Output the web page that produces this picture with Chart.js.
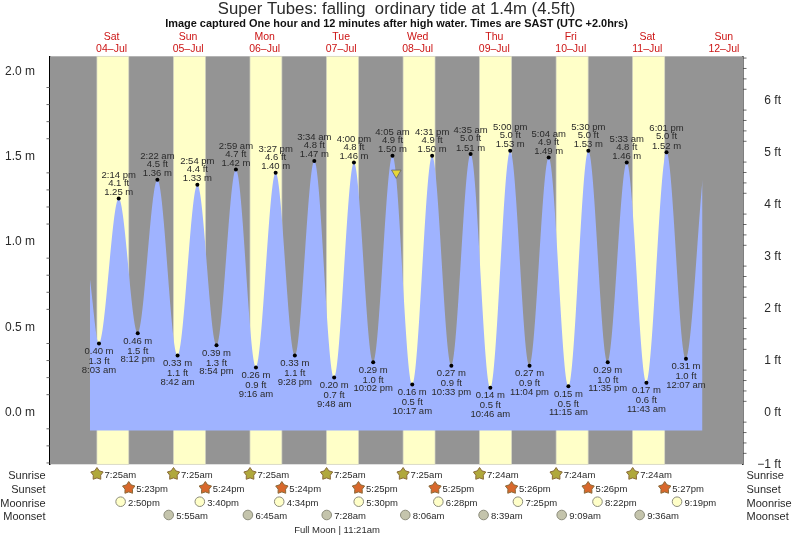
<!DOCTYPE html>
<html>
<head>
<meta charset="utf-8">
<style>
  html, body { margin: 0; padding: 0; background: #fff; }
  canvas { display: block; }
</style>
<script src="https://cdn.jsdelivr.net/npm/chart.js@4/dist/chart.umd.min.js"></script>
</head>
<body>
<canvas id="tide" width="793" height="537"></canvas>
<script>
// tide turning points. hours are counted from 00:00 on 04-Jul
const eventDays = [0,0,0, 1,1,1,1, 2,2,2,2, 3,3,3,3, 4,4,4,4, 5,5,5,5, 6,6,6,6, 7,7,7, 8];
const eventTimes = [
  "8:03 am","2:14 pm","8:12 pm",
  "2:22 am","8:42 am","2:54 pm","8:54 pm",
  "2:59 am","9:16 am","3:27 pm","9:28 pm",
  "3:34 am","9:48 am","4:00 pm","10:02 pm",
  "4:05 am","10:17 am","4:31 pm","10:33 pm",
  "4:35 am","10:46 am","5:00 pm","11:04 pm",
  "5:04 am","11:15 am","5:30 pm","11:35 pm",
  "5:33 am","11:43 am","6:01 pm",
  "12:07 am"
];
const eventMetres = [
  0.40,1.25,0.46,
  1.36,0.33,1.33,0.39,
  1.42,0.26,1.40,0.33,
  1.47,0.20,1.46,0.29,
  1.50,0.16,1.50,0.27,
  1.51,0.14,1.53,0.27,
  1.49,0.15,1.53,0.29,
  1.46,0.17,1.52,
  0.31
];
const eventFeet = [
  "1.3","4.1","1.5",
  "4.5","1.1","4.4","1.3",
  "4.7","0.9","4.6","1.1",
  "4.8","0.7","4.8","1.0",
  "4.9","0.5","4.9","0.9",
  "5.0","0.5","5.0","0.9",
  "4.9","0.5","5.0","1.0",
  "4.8","0.6","5.0",
  "1.0"
];
// where the drawn curve starts and stops
const curveStart = { x: 5.2, y: 0.78 };
const curveEnd = { x: 197.3, y: 1.36 };
const curveBase = -0.11;
const nowMarker = { x: 101.28, y: 1.4 };

const dayNames = ["Sat","Sun","Mon","Tue","Wed","Thu","Fri","Sat","Sun"];
const dayDates = ["04\u2013Jul","05\u2013Jul","06\u2013Jul","07\u2013Jul","08\u2013Jul","09\u2013Jul","10\u2013Jul","11\u2013Jul","12\u2013Jul"];

const sunrise = ["7:25am","7:25am","7:25am","7:25am","7:25am","7:24am","7:24am","7:24am"];
const sunset = ["5:23pm","5:24pm","5:24pm","5:25pm","5:25pm","5:26pm","5:26pm","5:27pm"];
const moonrise = ["2:50pm","3:40pm","4:34pm","5:30pm","6:28pm","7:25pm","8:22pm","9:19pm"];
const moonset = ["5:55am","6:45am","7:28am","8:06am","8:39am","9:09am","9:36am"];
const moonsetFirstDay = 1;

const metreTicks = [0, 0.5, 1, 1.5, 2];
const feetTicks = [-1, 0, 1, 2, 3, 4, 5, 6];

const GREY = "#949494";
const YELLOW = "#ffffc8";
const BLUE = "#9fb3ff";
const TEXT = "#2a2a2a";
const FONT = "'Liberation Sans', Arial, sans-serif";
const M_PER_FT = 0.3048;
const Y_MIN = -0.308;
const Y_MAX = 2.083;

function clockToHours(s) {
  const m = s.match(/(\d+):(\d+)\s*(am|pm)/);
  let h = parseInt(m[1]) % 12 + parseInt(m[2]) / 60;
  if (m[3] === "pm") h += 12;
  return h;
}

const eventHours = eventTimes.map((t, i) => eventDays[i] * 24 + clockToHours(t));
const tidePoints = [curveStart]
  .concat(eventHours.map((h, i) => ({ x: h, y: eventMetres[i] })))
  .concat([curveEnd]);

// day bands, minor ticks and the rows under the plot
const tideExtras = {
  id: "tideExtras",
  afterLayout(chart) {
    // crossAlign far right-aligns to the scale box, pull the ft labels in from the page edge
    chart.scales.ft.right = 781;
  },
  beforeDatasetsDraw(chart) {
    const { ctx, chartArea: a, scales } = chart;
    ctx.save();
    ctx.fillStyle = GREY;
    ctx.fillRect(a.left, a.top, a.right - a.left, a.bottom - a.top);
    ctx.fillStyle = YELLOW;
    ctx.strokeStyle = "#d8d8c4";
    ctx.lineWidth = 0.7;
    sunrise.forEach((t, i) => {
      const x0 = scales.x.getPixelForValue(i * 24 + clockToHours(t));
      const x1 = scales.x.getPixelForValue(i * 24 + clockToHours(sunset[i]));
      ctx.fillRect(x0, a.top, x1 - x0, a.bottom - a.top);
      ctx.strokeRect(x0, a.top, x1 - x0, a.bottom - a.top);
    });
    ctx.restore();
  },
  afterDatasetsDraw(chart) {
    const { ctx, chartArea: a, scales } = chart;
    ctx.save();
    // minor ticks
    ctx.strokeStyle = "#444";
    ctx.lineWidth = 0.8;
    ctx.beginPath();
    for (let v = -3; v <= 20; v++) {
      if (v % 5 === 0) continue;
      const y = scales.y.getPixelForValue(v / 10);
      ctx.moveTo(a.left - 3.5, y);
      ctx.lineTo(a.left, y);
    }
    for (let v = -5; v <= 34; v++) {
      if (v % 5 === 0) continue;
      const y = scales.ft.getPixelForValue(v / 5);
      ctx.moveTo(a.right, y);
      ctx.lineTo(a.right + 3.5, y);
    }
    ctx.stroke();

    // labels on the highs and lows
    ctx.fillStyle = TEXT;
    ctx.font = "9.5px " + FONT;
    ctx.textAlign = "center";
    ctx.textBaseline = "middle";
    eventHours.forEach((h, i) => {
      const x = scales.x.getPixelForValue(h);
      const y = scales.y.getPixelForValue(eventMetres[i]);
      const isLow = i === 0 || eventMetres[i] < eventMetres[i - 1];
      const m = eventMetres[i].toFixed(2) + " m";
      const ft = eventFeet[i] + " ft";
      if (isLow) {
        ctx.fillText(m, x, y + 7.8);
        ctx.fillText(ft, x, y + 17.8);
        ctx.fillText(eventTimes[i], x, y + 26.5);
      } else {
        ctx.fillText(m, x, y - 6.2);
        ctx.fillText(ft, x, y - 15.5);
        ctx.fillText(eventTimes[i], x, y - 23.5);
      }
    });

    // rows under the plot
    const rows = [
      { times: sunrise, y: 475, first: 0, icon: "sunrise" },
      { times: sunset, y: 489, first: 0, icon: "sunset" },
      { times: moonrise, y: 502.7, first: 0, icon: "moonrise" },
      { times: moonset, y: 516, first: moonsetFirstDay, icon: "moonset" }
    ];
    ctx.font = "9.5px " + FONT;
    ctx.textAlign = "left";
    rows.forEach(row => {
      row.times.forEach((t, i) => {
        const x = scales.x.getPixelForValue((i + row.first) * 24 + clockToHours(t));
        drawIcon(ctx, row.icon, x, row.y - 1);
        ctx.fillStyle = TEXT;
        ctx.fillText(t, x + 7.5, row.y + 0.8);
      });
    });
    ctx.font = "11px " + FONT;
    ctx.textAlign = "right";
    ["Sunrise", "Sunset", "Moonrise", "Moonset"].forEach((name, i) => {
      ctx.fillText(name, 45.5, rows[i].y + 0.8);
    });
    ctx.textAlign = "left";
    ["Sunrise", "Sunset", "Moonrise", "Moonset"].forEach((name, i) => {
      ctx.fillText(name, 746.5, rows[i].y + 0.8);
    });
    ctx.font = "9.5px " + FONT;
    ctx.textAlign = "center";
    ctx.fillText("Full Moon | 11:21am", 337, 530);
    ctx.restore();
  }
};

function drawIcon(ctx, kind, x, y) {
  ctx.save();
  ctx.lineWidth = 1;
  if (kind === "sunrise" || kind === "sunset") {
    ctx.fillStyle = kind === "sunrise" ? "#b0a83c" : "#d8682c";
    ctx.strokeStyle = "#8a6a3a";
    ctx.beginPath();
    for (let k = 0; k < 10; k++) {
      const r = k % 2 === 0 ? 6.5 : 3.9;
      const t = -Math.PI / 2 + k * Math.PI / 5;
      ctx.lineTo(x + r * Math.cos(t), y + r * Math.sin(t));
    }
    ctx.closePath();
    ctx.fill();
    ctx.stroke();
  } else {
    ctx.fillStyle = kind === "moonrise" ? "#ffffc8" : "#c4c4ac";
    ctx.strokeStyle = "#8c8c7c";
    ctx.beginPath();
    ctx.arc(x, y, 4.8, 0, Math.PI * 2);
    ctx.fill();
    ctx.stroke();
  }
  ctx.restore();
}

new Chart(document.getElementById("tide").getContext("2d"), {
  type: "scatter",
  data: {
    datasets: [
      {
        // the "now" triangle, in front of the curve
        data: [nowMarker],
        pointStyle: "triangle",
        rotation: 180,
        pointRadius: 5.5,
        backgroundColor: "#e6d636",
        borderColor: "#666",
        borderWidth: 0.8,
        order: 0
      },
      {
        data: tidePoints,
        showLine: true,
        cubicInterpolationMode: "monotone",
        fill: { value: curveBase },
        backgroundColor: BLUE,
        borderWidth: 0,
        pointRadius: ctx => (ctx.dataIndex === 0 || ctx.dataIndex === tidePoints.length - 1) ? 0 : 2,
        pointBackgroundColor: "#000",
        pointBorderWidth: 0,
        order: 1
      }
    ]
  },
  plugins: [tideExtras],
  options: {
    responsive: false,
    animation: false,
    devicePixelRatio: 1,
    layout: { padding: { bottom: 72.7 } },
    plugins: {
      legend: { display: false },
      tooltip: { enabled: false },
      title: {
        display: true,
        text: "Super Tubes: falling  ordinary tide at 1.4m (4.5ft)",
        color: TEXT,
        font: { family: FONT, size: 16.7, weight: "normal", lineHeight: 1 },
        padding: { top: 1, bottom: 1 }
      },
      subtitle: {
        display: true,
        text: "Image captured One hour and 12 minutes after high water. Times are SAST (UTC +2.0hrs)",
        color: "#111",
        font: { family: FONT, size: 10.95, weight: "bold", lineHeight: 1 },
        padding: { top: 0, bottom: 0 }
      }
    },
    scales: {
      x: {
        type: "linear",
        position: "top",
        min: -7.31,
        max: 210,
        afterBuildTicks: scale => {
          scale.ticks = dayNames.map((d, i) => ({ value: i * 24 + 12 }));
        },
        afterFit: scale => { scale.height = 26.65; },
        grid: { display: false, drawTicks: false },
        border: { display: false },
        ticks: {
          autoSkip: false,
          maxRotation: 0,
          color: "#cc1414",
          padding: 1,
          font: { family: FONT, size: 10.5, lineHeight: 1.15 },
          callback: (v, i) => [dayNames[i], dayDates[i]]
        }
      },
      y: {
        type: "linear",
        position: "left",
        min: Y_MIN,
        max: Y_MAX,
        afterBuildTicks: scale => {
          scale.ticks = metreTicks.map(v => ({ value: v }));
        },
        afterFit: scale => { scale.width = 50; },
        grid: { display: false, drawTicks: true, tickLength: 7, tickColor: "#444", tickWidth: 0.8 },
        border: { display: true, color: "#000", width: 1.5 },
        ticks: {
          color: TEXT,
          padding: 8,
          // empty first line nudges the text down onto the tick
          font: { family: FONT, size: 12, lineHeight: "2px" },
          callback: v => ["", v.toFixed(1) + " m"]
        }
      },
      ft: {
        type: "linear",
        position: "right",
        min: Y_MIN / M_PER_FT,
        max: Y_MAX / M_PER_FT,
        afterBuildTicks: scale => {
          scale.ticks = feetTicks.map(v => ({ value: v }));
        },
        afterFit: scale => { scale.width = 50; },
        grid: { display: false, drawTicks: true, tickLength: 7, tickColor: "#444", tickWidth: 0.8 },
        border: { display: true, color: "#000", width: 1.5 },
        ticks: {
          color: TEXT,
          crossAlign: "far",
          font: { family: FONT, size: 12, lineHeight: "2px" },
          callback: v => ["", (v < 0 ? "\u2212" + Math.abs(v) : v) + " ft"]
        }
      }
    }
  }
});
</script>
</body>
</html>
